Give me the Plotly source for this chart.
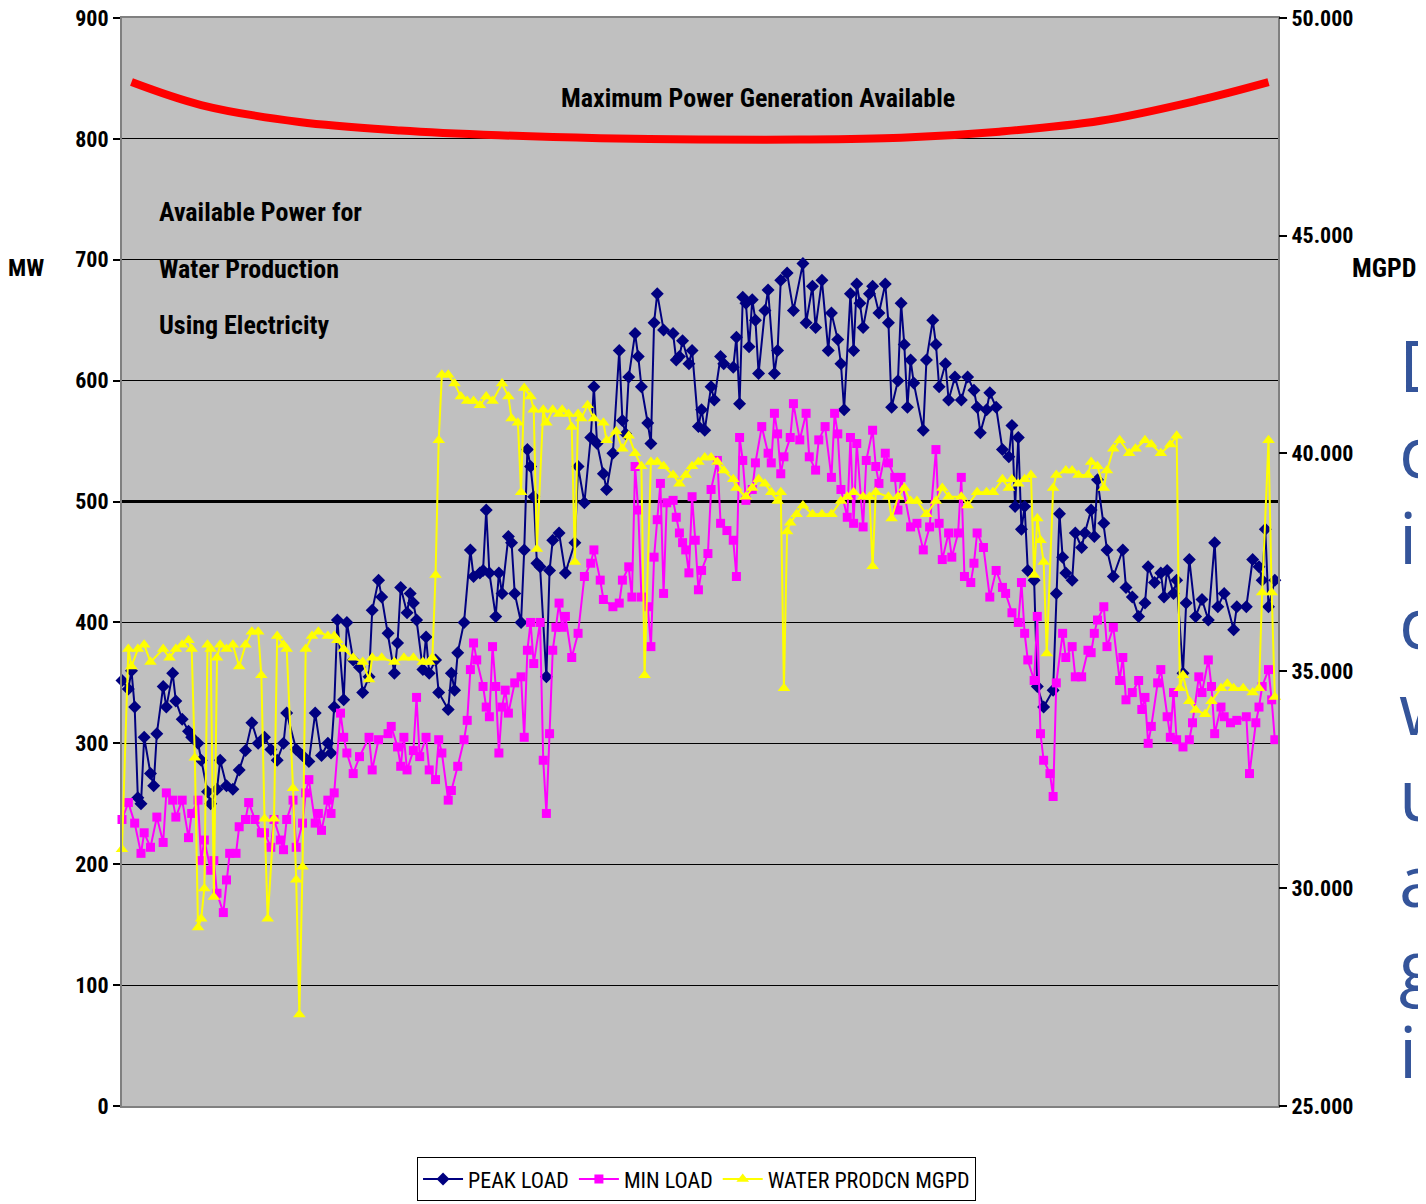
import plotly.graph_objects as go

# ---------------- data ----------------
maxgen_days = [3, 25, 56, 88, 119, 151, 182, 214, 246, 277, 309, 340, 362]
maxgen_mw = [847, 828, 814, 807, 803, 800.5, 799.5, 799.5, 801, 806, 815, 832, 847]

peak_days = [0, 2, 3, 4, 5, 6, 7, 9, 10, 11,
             13, 14, 16, 17, 19, 21, 22, 24, 25, 27,
             28, 30, 31, 33, 35, 37, 39, 41, 43, 45,
             47, 49, 51, 52, 55, 57, 59, 61, 63, 65,
             66, 67, 68, 70, 71, 73, 75, 76, 78, 79,
             81, 82, 84, 86, 87, 88, 90, 91, 92, 93,
             95, 96, 97, 99, 100, 103, 104, 105, 106, 108,
             110, 111, 113, 114, 115, 116, 118, 119, 120, 122,
             123, 124, 126, 127, 128, 129, 130, 131, 132, 134,
             135, 136, 138, 140, 143, 144, 146, 148, 149, 150,
             152, 153, 155, 157, 158, 159, 160, 162, 163, 164,
             166, 167, 168, 169, 171, 174, 175, 176, 177, 179,
             180, 182, 183, 184, 186, 187, 189, 190, 193, 194,
             195, 196, 197, 198, 199, 200, 201, 203, 204, 206,
             207, 208, 210, 212, 215, 216, 218, 219, 221, 223,
             224, 226, 227, 228, 230, 231, 232, 233, 234, 236,
             237, 239, 241, 242, 243, 245, 246, 247, 248, 249,
             250, 253, 254, 256, 257, 258, 260, 261, 263, 265,
             267, 269, 270, 271, 273, 274, 276, 278, 280, 281,
             282, 283, 284, 285, 286, 288, 289, 291, 294, 295,
             296, 297, 298, 300, 301, 303, 304, 306, 307, 308,
             310, 311, 313, 316, 317, 319, 321, 323, 324, 326,
             328, 329, 330, 332, 333, 335, 336, 337, 339, 341,
             343, 345, 346, 348, 351, 352, 355, 357, 359, 360,
             361, 362, 364]
peak_load = [352, 345, 360, 330, 255, 250, 305, 275, 265, 308,
             347, 330, 358, 335, 320, 310, 305, 300, 286, 260,
             250, 262, 286, 265, 262, 278, 294, 317, 300, 305,
             295, 286, 300, 325, 295, 290, 285, 325, 290, 300,
             292, 330, 402, 336, 400, 369, 363, 342, 355, 410,
             435, 421, 391, 358, 383, 429, 408, 424, 416, 402,
             361, 388, 358, 369, 342, 328, 358, 344, 375, 400,
             460, 438, 441, 443, 493, 441, 405, 441, 424, 471,
             466, 424, 400, 460, 543, 529, 504, 449, 446, 355,
             443, 468, 474, 441, 466, 529, 499, 553, 595, 548,
             523, 510, 540, 625, 567, 556, 603, 639, 620, 595,
             565, 548, 648, 672, 642, 639, 617, 620, 633, 614,
             625, 562, 576, 559, 595, 584, 620, 614, 611, 636,
             581, 669, 664, 628, 667, 650, 606, 658, 675, 606,
             625, 683, 689, 658, 697, 648, 678, 644, 683, 625,
             656, 634, 614, 576, 672, 625, 680, 664, 644, 672,
             678, 656, 680, 648, 578, 600, 664, 630, 578, 617,
             598, 559, 617, 650, 630, 595, 614, 584, 603, 584,
             603, 592, 578, 557, 576, 590, 578, 543, 537, 563,
             496, 553, 477, 496, 443, 435, 347, 330, 344, 424,
             490, 454, 441, 435, 474, 462, 474, 493, 471, 518,
             482, 460, 438, 460, 429, 421, 405, 416, 446, 433,
             441, 421, 443, 424, 435, 358, 416, 452, 405, 419,
             402, 466, 413, 424, 394, 413, 413, 452, 446, 435,
             477, 413, 435]

min_days = [0, 2, 4, 6, 7, 9, 11, 13, 14, 16,
            17, 19, 21, 22, 24, 25, 26, 28, 29, 30,
            32, 33, 34, 36, 37, 39, 40, 42, 44, 45,
            47, 48, 50, 51, 52, 54, 55, 57, 58, 59,
            61, 62, 63, 65, 66, 67, 69, 70, 71, 73,
            75, 78, 79, 81, 84, 85, 87, 88, 89, 90,
            92, 93, 94, 96, 97, 99, 100, 101, 103, 104,
            106, 108, 109, 110, 111, 112, 114, 115, 116, 117,
            118, 119, 120, 121, 122, 124, 126, 127, 128, 129,
            130, 132, 133, 134, 135, 136, 137, 138, 139, 140,
            142, 144, 146, 148, 149, 151, 152, 155, 157, 158,
            160, 161, 162, 163, 164, 166, 167, 168, 169, 170,
            171, 172, 174, 175, 176, 177, 178, 179, 180, 181,
            182, 183, 185, 186, 188, 189, 191, 193, 194, 195,
            196, 197, 199, 200, 202, 204, 205, 206, 207, 208,
            209, 211, 212, 214, 216, 217, 219, 220, 222, 224,
            225, 226, 227, 229, 230, 231, 232, 234, 235, 237,
            238, 239, 241, 242, 244, 245, 246, 249, 251, 253,
            255, 257, 258, 259, 261, 262, 264, 265, 266, 268,
            269, 270, 272, 274, 276, 278, 279, 281, 283, 284,
            285, 286, 288, 289, 290, 291, 293, 294, 295, 297,
            298, 300, 301, 303, 305, 306, 307, 308, 310, 311,
            313, 315, 316, 317, 319, 321, 322, 323, 324, 325,
            327, 328, 330, 331, 332, 333, 335, 337, 338, 340,
            341, 343, 344, 345, 347, 348, 350, 352, 355, 356,
            358, 359, 360, 362, 363, 364]
min_load = [237, 251, 234, 209, 226, 214, 239, 218, 259, 253,
            239, 253, 222, 242, 253, 203, 220, 195, 203, 176,
            160, 187, 209, 209, 231, 237, 251, 237, 226, 226,
            214, 237, 220, 212, 237, 253, 214, 234, 259, 270,
            234, 242, 228, 253, 242, 259, 325, 305, 292, 275,
            289, 305, 278, 303, 308, 314, 297, 281, 305, 278,
            294, 338, 289, 305, 278, 270, 303, 292, 253, 261,
            281, 303, 319, 361, 383, 369, 347, 330, 322, 380,
            347, 292, 330, 344, 325, 350, 355, 305, 377, 400,
            366, 400, 286, 242, 308, 377, 396, 416, 396, 405,
            371, 391, 438, 449, 460, 435, 419, 413, 416, 435,
            446, 421, 529, 493, 421, 413, 380, 454, 485, 515,
            424, 499, 501, 487, 474, 466, 460, 441, 504, 468,
            427, 443, 457, 510, 534, 482, 476, 468, 438, 553,
            534, 501, 510, 532, 562, 540, 532, 573, 556, 523,
            537, 553, 581, 551, 573, 537, 526, 551, 562, 520,
            573, 556, 510, 487, 553, 482, 548, 479, 534, 559,
            529, 515, 540, 532, 520, 493, 520, 479, 482, 460,
            479, 543, 482, 452, 474, 454, 474, 520, 438, 433,
            449, 474, 462, 421, 443, 429, 424, 408, 400, 433,
            391, 369, 352, 405, 308, 286, 275, 256, 350, 391,
            371, 380, 355, 355, 377, 375, 391, 402, 413, 380,
            396, 352, 371, 336, 342, 352, 328, 338, 300, 314,
            350, 361, 322, 305, 342, 303, 297, 303, 317, 355,
            342, 369, 347, 308, 330, 322, 317, 319, 322, 275,
            317, 330, 347, 361, 336, 303]

water_days = [0, 2, 3, 5, 7, 9, 13, 15, 17, 19,
              21, 22, 23, 24, 25, 26, 27, 28, 29, 30,
              31, 33, 35, 37, 39, 41, 43, 44, 45, 46,
              48, 49, 51, 52, 54, 55, 56, 57, 58, 60,
              62, 65, 67, 68, 70, 73, 76, 78, 79, 82,
              86, 89, 92, 95, 97, 98, 99, 100, 101, 103,
              105, 107, 109, 111, 113, 115, 117, 120, 122, 123,
              125, 126, 127, 129, 130, 131, 133, 134, 136, 138,
              139, 141, 142, 143, 144, 145, 147, 149, 152, 153,
              156, 158, 160, 162, 164, 165, 167, 169, 171, 174,
              176, 178, 180, 182, 184, 186, 188, 190, 193, 194,
              197, 199, 201, 203, 205, 207, 208, 209, 210, 211,
              213, 215, 218, 221, 224, 227, 229, 231, 234, 236,
              237, 238, 242, 243, 245, 247, 249, 251, 254, 257,
              259, 261, 265, 267, 270, 273, 275, 278, 280, 281,
              283, 285, 287, 288, 289, 290, 291, 292, 294, 295,
              298, 300, 302, 305, 306, 308, 310, 311, 313, 315,
              318, 320, 323, 325, 328, 331, 333, 334, 335, 337,
              339, 342, 344, 347, 349, 351, 354, 357, 359, 360,
              362, 363, 364]
water_mgpd = [30.9, 35.5, 35.1, 35.5, 35.6, 35.2, 35.5, 35.3, 35.5, 35.6,
              35.7, 35.5, 33.0, 29.1, 29.3, 30.0, 35.6, 35.5, 29.8, 35.3,
              35.6, 35.5, 35.6, 35.1, 35.6, 35.9, 35.9, 34.9, 31.6, 29.3,
              31.6, 35.8, 35.6, 35.5, 32.3, 30.2, 27.1, 30.5, 35.5, 35.8,
              35.9, 35.8, 35.8, 35.7, 35.5, 35.3, 35.2, 34.8, 35.3, 35.3,
              35.2, 35.3, 35.3, 35.2, 35.2, 35.3, 37.2, 40.3, 41.8, 41.8,
              41.6, 41.3, 41.2, 41.2, 41.1, 41.3, 41.2, 41.6, 41.3, 40.8,
              40.7, 39.1, 41.5, 41.3, 41.0, 37.8, 41.0, 40.7, 41.0, 40.9,
              41.0, 40.9, 40.6, 37.5, 40.9, 40.8, 41.1, 40.8, 40.7, 40.3,
              40.5, 40.1, 40.4, 40.0, 39.7, 34.9, 39.8, 39.8, 39.7, 39.5,
              39.3, 39.5, 39.7, 39.8, 39.9, 39.9, 39.8, 39.6, 39.4, 39.2,
              39.0, 39.2, 39.4, 39.3, 39.1, 38.9, 39.1, 34.6, 38.2, 38.4,
              38.6, 38.8, 38.6, 38.6, 38.6, 38.9, 39.0, 39.1, 39.0, 39.0,
              37.4, 39.1, 39.0, 38.5, 39.0, 39.2, 38.9, 38.9, 38.6, 38.9,
              39.2, 39.0, 39.0, 38.8, 39.1, 39.1, 39.1, 39.4, 39.2, 39.4,
              39.3, 39.4, 39.5, 37.2, 38.5, 38.0, 37.5, 35.4, 39.2, 39.5,
              39.6, 39.6, 39.5, 39.5, 39.8, 39.7, 39.2, 39.6, 40.1, 40.3,
              40.0, 40.1, 40.3, 40.2, 40.0, 40.2, 40.4, 34.6, 34.9, 34.3,
              34.1, 34.0, 34.3, 34.6, 34.7, 34.6, 34.6, 34.5, 34.6, 36.8,
              40.3, 36.8, 34.4]

left_ticks = [0, 100, 200, 300, 400, 500, 600, 700, 800, 900]
right_ticks = [25, 30, 35, 40, 45, 50]
right_tick_text = ["25.000", "30.000", "35.000", "40.000", "45.000", "50.000"]
side_text = ["D", "c", "in", "c", "w", "u", "a", "g", "in"]

# ---------------- figure ----------------
NARROW = "Roboto Condensed, DejaVu Sans Condensed, sans-serif"

# the page body has an 8px default margin; plot area wanted at x 122..1278, y 18..1106
OFF = 8
ML, MT = 122 - OFF, 18 - OFF
PW, PH = 1156, 1088

fig = go.Figure()
fig.add_trace(go.Scatter(x=maxgen_days, y=maxgen_mw, mode="lines",
                         line=dict(color="#FF0000", width=8, shape="spline", smoothing=1.0),
                         showlegend=False, hoverinfo="skip"))
fig.add_trace(go.Scatter(x=peak_days, y=peak_load, name="PEAK LOAD", mode="lines+markers",
                         line=dict(color="#000080", width=2),
                         marker=dict(symbol="diamond", size=10, color="#000080"),
                         cliponaxis=False))
fig.add_trace(go.Scatter(x=min_days, y=min_load, name="MIN LOAD", mode="lines+markers",
                         line=dict(color="#FF00FF", width=2),
                         marker=dict(symbol="square", size=9, color="#FF00FF"),
                         cliponaxis=False))
fig.add_trace(go.Scatter(x=water_days, y=water_mgpd, name="WATER PRODCN MGPD", yaxis="y2",
                         mode="lines+markers",
                         line=dict(color="#FFFF00", width=2),
                         marker=dict(symbol="triangle-up", size=11, color="#FFFF00"),
                         cliponaxis=False))

tickfont = dict(family=NARROW, size=22, color="black", weight="bold")

fig.update_layout(
    width=1426, height=1204,
    margin=dict(l=ML, r=1426 - ML - PW, t=MT, b=1204 - MT - PH, autoexpand=False),
    paper_bgcolor="white",
    plot_bgcolor="#C0C0C0",
    xaxis=dict(range=[0, 365], showgrid=False, zeroline=False, showticklabels=False,
               ticks="", showline=True, linecolor="#808080", linewidth=2, mirror=True,
               automargin=False),
    yaxis=dict(range=[0, 900], tickvals=left_ticks, showgrid=True, gridcolor="black",
               gridwidth=1, zeroline=False, ticks="outside", ticklen=7, tickwidth=2,
               tickcolor="black", tickfont=tickfont, showline=True, linecolor="#808080",
               linewidth=2, mirror=True, automargin=False, ticklabeloverflow="allow"),
    yaxis2=dict(range=[25, 50], overlaying="y", side="right", tickvals=right_ticks,
                ticktext=right_tick_text, showgrid=False, zeroline=False,
                ticks="outside", ticklen=8, tickwidth=2, tickcolor="black",
                tickfont=tickfont, showline=False, automargin=False,
                ticklabeloverflow="allow"),
    legend=dict(orientation="h", x=0.497, xanchor="center", y=-0.047, yanchor="top",
                bgcolor="white", bordercolor="black", borderwidth=1,
                font=dict(family=NARROW, size=22, color="black"),
                itemwidth=40, tracegroupgap=0),
    showlegend=True,
)

# thicker 500 MW line
fig.add_shape(type="line", xref="paper", x0=0, x1=1, yref="y", y0=500, y1=500,
              line=dict(color="black", width=3), layer="below")

ann_font = dict(family=NARROW, size=26, color="black", weight="bold")
fig.add_annotation(text="Maximum Power Generation Available", xref="paper", yref="paper",
                   x=0.550, y=0.9265, showarrow=False, font=ann_font,
                   xanchor="center", yanchor="middle")
for i, line in enumerate(["Available Power for", "Water Production", "Using Electricity"]):
    fig.add_annotation(text=line, xref="paper", yref="paper", x=0.0303,
                       y=0.8217 - i * 0.0520, showarrow=False, font=ann_font,
                       xanchor="left", yanchor="middle")

# axis titles (MW sits at the very left edge of the figure)
fig.add_annotation(text="MW", xref="paper", yref="paper", x=-ML / PW, y=0.770,
                   showarrow=False, font=dict(family=NARROW, size=24, color="black",
                                              weight="bold"),
                   xanchor="left", yanchor="middle", xshift=-2)
fig.add_annotation(text="MGPD", xref="paper", yref="paper", x=1.0623, y=0.770,
                   showarrow=False, font=ann_font, xanchor="left", yanchor="middle")

# slide text cut off at the right edge
for i, frag in enumerate(side_text):
    ypix = 364 + i * 85.75
    fig.add_annotation(text=frag, xref="paper", yref="paper", x=(1397 - 122) / PW,
                       y=(1106 - ypix) / PH, showarrow=False,
                       font=dict(family="Open Sans, Noto Sans, sans-serif", size=72,
                                 color="#34549A"),
                       xanchor="left", yanchor="middle")

fig.write_html("out.html")
